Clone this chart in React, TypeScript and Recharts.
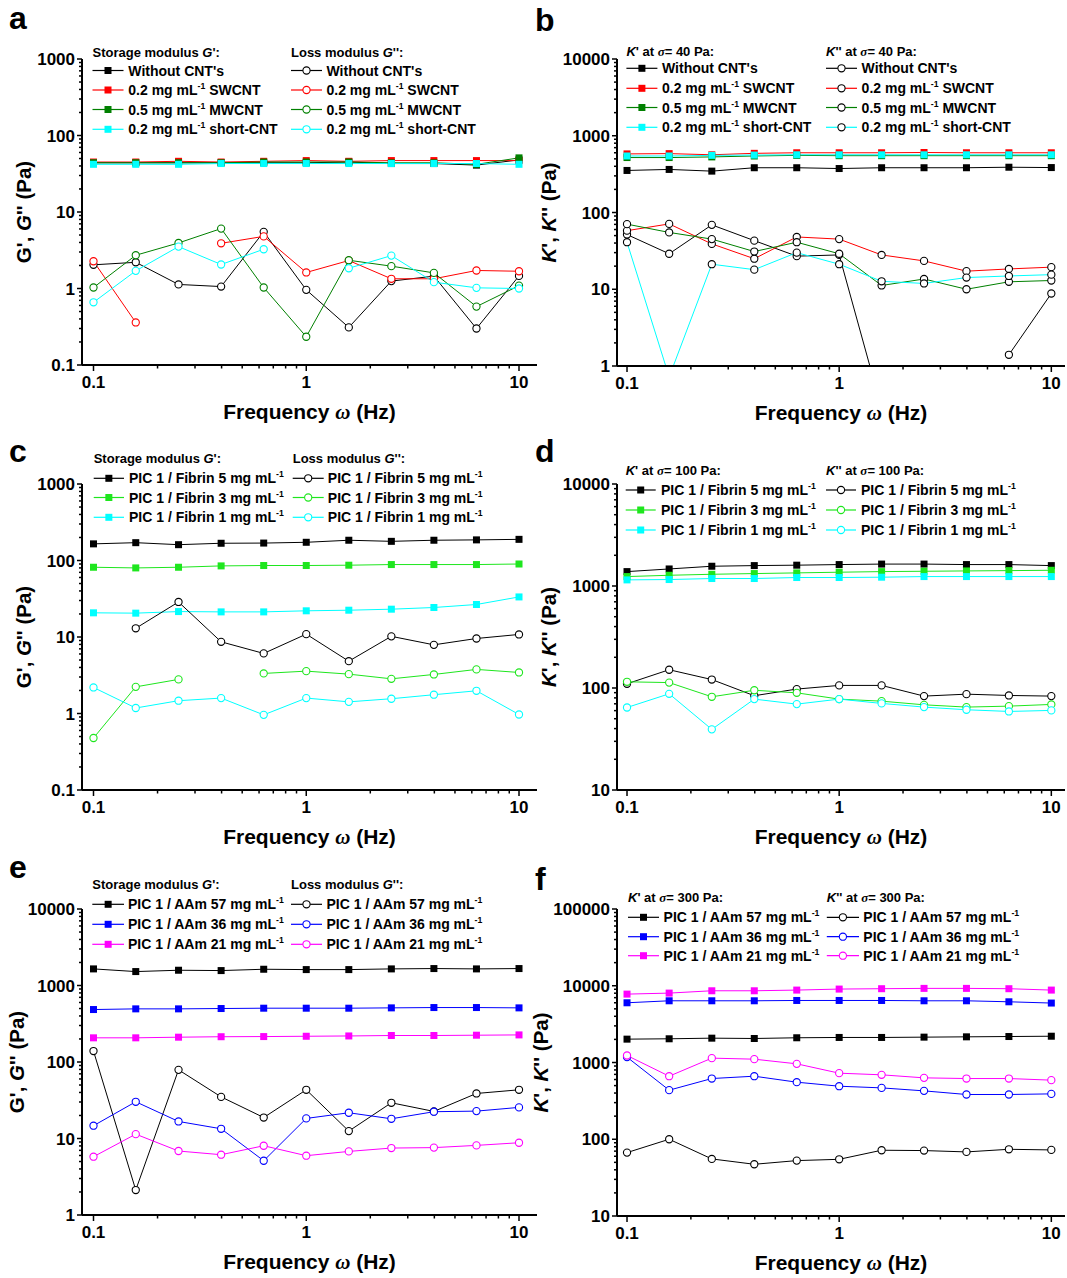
import React from 'react';
import { LineChart, Line, XAxis, YAxis } from 'recharts';

const FONT = '"Liberation Sans", Arial, Helvetica, sans-serif';
const SERIF = '"Liberation Serif", "DejaVu Serif", serif';

// ---------- data ----------
const FREQ = [0.1, 0.158, 0.251, 0.398, 0.631, 1, 1.585, 2.512, 3.981, 6.31, 10];

// panel a (G' / G'' with CNTs)
const A_GP_NONE = [44, 44, 44, 44, 44, 44, 45, 43, 43, 41, 48];
const A_GP_SWCNT = [45, 45, 46, 45, 46, 47, 46, 47, 47, 47, 47];
const A_GP_MWCNT = [44, 44, 44, 44, 45, 45, 45, 44, 44, 42, 51];
const A_GP_SHORT = [42, 42, 42, 43, 43, 43, 43, 43, 43, 43, 42];
const A_GPP_NONE = [2.04, 2.2, 1.13, 1.06, 5.5, 0.96, 0.31, 1.25, 1.45, 0.3, 1.46];
const A_GPP_SWCNT = [2.27, 0.36, null, 3.9, 4.8, 1.62, 2.32, 1.34, 1.34, 1.72, 1.68];
const A_GPP_MWCNT = [1.03, 2.72, 3.94, 6.07, 1.03, 0.234, 2.34, 1.96, 1.6, 0.58, 1.09];
const A_GPP_SHORT = [0.66, 1.7, 3.53, 2.06, 3.26, null, 1.84, 2.69, 1.21, 1.02, 1.0];

// panel b (K' / K'' at 40 Pa with CNTs)
const B_KP_NONE = [353, 364, 346, 383, 383, 374, 383, 383, 383, 389, 385];
const B_KP_SWCNT = [580, 585, 565, 590, 600, 600, 600, 605, 600, 600, 600];
const B_KP_MWCNT = [520, 520, 530, 545, 555, 550, 550, 550, 550, 550, 550];
const B_KP_SHORT = [545, 545, 555, 560, 565, 565, 565, 565, 565, 565, 565];
const B_KPP_NONE = [51.6, 29, 69, 43, 27, 28, 0.28, null, null, 1.4, 8.8];
const B_KPP_SWCNT = [58, 71, 39, 25, 48, 45, 28, 23.4, 17.2, 18.4, 19.4];
const B_KPP_MWCNT = [70.5, 55, 45, 31, 41, 29, 11.2, 13.6, 10, 12.5, 13];
const B_KPP_SHORT = [41, 0.72, 21.2, 18, 30, 21.2, 12.7, 11.9, 14.2, 14.9, 15.5];

// panel c (G' / G'' PIC / Fibrin)
const C_GP_5 = [165, 171, 161, 168, 169, 173, 184, 178, 184, 186, 189];
const C_GP_3 = [81.6, 80, 81.6, 85, 86, 86, 86.8, 88.5, 88.5, 88.5, 90];
const C_GP_1 = [20.7, 20.5, 21.5, 21.3, 21.3, 22, 22.4, 23.1, 24.3, 26.6, 33.4];
const C_GPP_5 = [null, 13, 28.7, 8.65, 6.1, 10.9, 4.83, 10.2, 7.9, 9.56, 10.8];
const C_GPP_3 = [0.478, 2.23, 2.79, null, 3.34, 3.58, 3.27, 2.84, 3.24, 3.77, 3.44];
const C_GPP_1 = [2.19, 1.18, 1.47, 1.59, 0.96, 1.59, 1.42, 1.56, 1.76, 1.98, 0.97];

// panel d (K' / K'' at 100 Pa PIC / Fibrin)
const D_KP_5 = [1384, 1469, 1562, 1585, 1600, 1622, 1640, 1640, 1622, 1622, 1585];
const D_KP_3 = [1237, 1274, 1303, 1324, 1344, 1365, 1384, 1395, 1405, 1415, 1426];
const D_KP_1 = [1148, 1157, 1184, 1184, 1211, 1211, 1220, 1237, 1237, 1237, 1237];
const D_KPP_5 = [110, 151, 121, 84, 97.6, 106, 106, 83.3, 87, 84.5, 83.3];
const D_KPP_3 = [115, 113, 82, 95, 89.7, 77.8, 74.3, 68.4, 65, 66.4, 69];
const D_KPP_1 = [64.4, 87.7, 39.3, 77.8, 69.5, 77.8, 70.6, 65, 61.2, 58.9, 60.3];

// panel e (G' / G'' PIC / AAm)
const E_GP_57 = [1648, 1521, 1583, 1567, 1631, 1614, 1614, 1648, 1665, 1648, 1665];
const E_GP_36 = [485, 495, 495, 500, 505, 505, 505, 510, 515, 515, 510];
const E_GP_21 = [207, 207, 211, 214, 215, 217, 219, 222, 222, 224, 226];
const E_GPP_57 = [139, 2.12, 79, 35, 18.8, 43.3, 12.5, 29.3, 22.6, 38.8, 43.3];
const E_GPP_36 = [14.7, 30.2, 16.7, 13.4, 5.12, 18.3, 21.7, 18.1, 22.4, 22.8, 25.5];
const E_GPP_21 = [5.78, 11.4, 6.86, 6.14, 8.04, 5.96, 6.78, 7.5, 7.6, 8.13, 8.8];

// panel f (K' / K'' at 300 Pa PIC / AAm)
const F_KP_57 = [2015, 2037, 2075, 2055, 2100, 2120, 2120, 2140, 2160, 2180, 2200];
const F_KP_36 = [6000, 6370, 6370, 6370, 6430, 6430, 6430, 6370, 6370, 6180, 5950];
const F_KP_21 = [7780, 8020, 8600, 8600, 8780, 9050, 9150, 9240, 9240, 9150, 8780];
const F_KPP_57 = [67, 100, 55.4, 47.2, 52.7, 54.8, 71.9, 71.2, 68.4, 74, 72.6];
const F_KPP_36 = [1175, 436, 618, 663, 554, 491, 467, 427, 383, 383, 390];
const F_KPP_21 = [1234, 663, 1140, 1105, 961, 726, 691, 631, 618, 618, 589];

// legend labels
const CNT_LABELS = ["Without CNT's", '0.2 mg mL^-1^ SWCNT', '0.5 mg mL^-1^ MWCNT', '0.2 mg mL^-1^ short-CNT'];
const FIBRIN_LABELS = ['PIC 1 / Fibrin 5 mg mL^-1^', 'PIC 1 / Fibrin 3 mg mL^-1^', 'PIC 1 / Fibrin 1 mg mL^-1^'];
const AAM_LABELS = ['PIC 1 / AAm 57 mg mL^-1^', 'PIC 1 / AAm 36 mg mL^-1^', 'PIC 1 / AAm 21 mg mL^-1^'];

// ---------- styles ----------
const BLACK = '#000000';
const RED = '#ff0000';
const DKGREEN = '#008000';
const GREEN = '#1ee61e';
const CYAN = '#00ffff';
const BLUE = '#0000ff';
const MAGENTA = '#ff00ff';

type Kind = 'sq' | 'ci';
type Series = { values: (number | null)[]; color: string; kind: Kind; dotStroke?: string; label: string };
type Col = { lx1: number; lx2: number; tx: number };
type PanelCfg = {
  letter: string; lx: number; ly: number;
  plot: [number, number, number, number];
  xDomain: [number, number];
  yExp: [number, number];
  yTitle: string; yTitleX: number;
  headers: [string, string]; headerY: number; rows: number[];
  col1: Col; col2: Col;
  left: Series[]; right: Series[];
};

const mk = (values: (number | null)[], color: string, kind: Kind, label: string, dotStroke?: string): Series =>
  ({ values, color, kind, label, dotStroke });

const PANELS: PanelCfg[] = [
  {
    letter: 'a', lx: 9, ly: 29, plot: [82, 59, 537, 365], xDomain: [0.0883, 12.15], yExp: [-1, 3],
    yTitle: "G', _G_'' (Pa)", yTitleX: 31,
    headers: ["Storage modulus _G_':", "Loss modulus _G_'':"], headerY: 57, rows: [70.5, 90, 109.5, 129.3],
    col1: { lx1: 92.5, lx2: 123.5, tx: 128.3 }, col2: { lx1: 291, lx2: 322, tx: 326.5 },
    left: [
      mk(A_GP_NONE, BLACK, 'sq', CNT_LABELS[0]), mk(A_GP_SWCNT, RED, 'sq', CNT_LABELS[1]),
      mk(A_GP_MWCNT, DKGREEN, 'sq', CNT_LABELS[2]), mk(A_GP_SHORT, CYAN, 'sq', CNT_LABELS[3]),
    ],
    right: [
      mk(A_GPP_NONE, BLACK, 'ci', CNT_LABELS[0]), mk(A_GPP_SWCNT, RED, 'ci', CNT_LABELS[1]),
      mk(A_GPP_MWCNT, DKGREEN, 'ci', CNT_LABELS[2]), mk(A_GPP_SHORT, CYAN, 'ci', CNT_LABELS[3]),
    ],
  },
  {
    letter: 'b', lx: 535, ly: 31, plot: [617, 59, 1065, 366], xDomain: [0.0897, 11.6], yExp: [0, 4],
    yTitle: "_K_', _K_'' (Pa)", yTitleX: 556,
    headers: ["_K_' at ~σ~= 40 Pa:", "_K_'' at ~σ~= 40 Pa:"], headerY: 55.5, rows: [68.3, 88.3, 107.5, 127.3],
    col1: { lx1: 626.4, lx2: 657.4, tx: 662 }, col2: { lx1: 826, lx2: 857, tx: 861.6 },
    left: [
      mk(B_KP_NONE, BLACK, 'sq', CNT_LABELS[0]), mk(B_KP_SWCNT, RED, 'sq', CNT_LABELS[1]),
      mk(B_KP_MWCNT, DKGREEN, 'sq', CNT_LABELS[2]), mk(B_KP_SHORT, CYAN, 'sq', CNT_LABELS[3]),
    ],
    right: [
      mk(B_KPP_NONE, BLACK, 'ci', CNT_LABELS[0], BLACK), mk(B_KPP_SWCNT, RED, 'ci', CNT_LABELS[1], BLACK),
      mk(B_KPP_MWCNT, DKGREEN, 'ci', CNT_LABELS[2], BLACK), mk(B_KPP_SHORT, CYAN, 'ci', CNT_LABELS[3], BLACK),
    ],
  },
  {
    letter: 'c', lx: 9, ly: 462, plot: [82, 484, 537, 790], xDomain: [0.0883, 12.15], yExp: [-1, 3],
    yTitle: "G', _G_'' (Pa)", yTitleX: 31,
    headers: ["Storage modulus _G_':", "Loss modulus _G_'':"], headerY: 463, rows: [478.3, 497.5, 517.3],
    col1: { lx1: 93.7, lx2: 124, tx: 129 }, col2: { lx1: 292.7, lx2: 323.7, tx: 327.8 },
    left: [
      mk(C_GP_5, BLACK, 'sq', FIBRIN_LABELS[0]), mk(C_GP_3, GREEN, 'sq', FIBRIN_LABELS[1]),
      mk(C_GP_1, CYAN, 'sq', FIBRIN_LABELS[2]),
    ],
    right: [
      mk(C_GPP_5, BLACK, 'ci', FIBRIN_LABELS[0]), mk(C_GPP_3, GREEN, 'ci', FIBRIN_LABELS[1]),
      mk(C_GPP_1, CYAN, 'ci', FIBRIN_LABELS[2]),
    ],
  },
  {
    letter: 'd', lx: 535, ly: 462, plot: [617, 484, 1065, 790], xDomain: [0.0897, 11.6], yExp: [1, 4],
    yTitle: "_K_', _K_'' (Pa)", yTitleX: 556,
    headers: ["_K_' at ~σ~= 100 Pa:", "_K_'' at ~σ~= 100 Pa:"], headerY: 475, rows: [490, 510, 530],
    col1: { lx1: 625.7, lx2: 655.7, tx: 661 }, col2: { lx1: 826, lx2: 856, tx: 861 },
    left: [
      mk(D_KP_5, BLACK, 'sq', FIBRIN_LABELS[0]), mk(D_KP_3, GREEN, 'sq', FIBRIN_LABELS[1]),
      mk(D_KP_1, CYAN, 'sq', FIBRIN_LABELS[2]),
    ],
    right: [
      mk(D_KPP_5, BLACK, 'ci', FIBRIN_LABELS[0]), mk(D_KPP_3, GREEN, 'ci', FIBRIN_LABELS[1]),
      mk(D_KPP_1, CYAN, 'ci', FIBRIN_LABELS[2]),
    ],
  },
  {
    letter: 'e', lx: 9, ly: 878, plot: [82, 909, 537, 1215], xDomain: [0.0883, 12.15], yExp: [0, 4],
    yTitle: "G', _G_'' (Pa)", yTitleX: 24,
    headers: ["Storage modulus _G_':", "Loss modulus _G_'':"], headerY: 889, rows: [904.3, 924.3, 944.3],
    col1: { lx1: 92.3, lx2: 124, tx: 128 }, col2: { lx1: 291, lx2: 322, tx: 326.5 },
    left: [
      mk(E_GP_57, BLACK, 'sq', AAM_LABELS[0]), mk(E_GP_36, BLUE, 'sq', AAM_LABELS[1]),
      mk(E_GP_21, MAGENTA, 'sq', AAM_LABELS[2]),
    ],
    right: [
      mk(E_GPP_57, BLACK, 'ci', AAM_LABELS[0]), mk(E_GPP_36, BLUE, 'ci', AAM_LABELS[1]),
      mk(E_GPP_21, MAGENTA, 'ci', AAM_LABELS[2]),
    ],
  },
  {
    letter: 'f', lx: 535, ly: 890, plot: [617, 909, 1065, 1216], xDomain: [0.0897, 11.6], yExp: [1, 5],
    yTitle: "_K_', _K_'' (Pa)", yTitleX: 548,
    headers: ["_K_' at ~σ~= 300 Pa:", "_K_'' at ~σ~= 300 Pa:"], headerY: 902, rows: [917.3, 936.7, 955.7],
    col1: { lx1: 628, lx2: 659, tx: 663.6 }, col2: { lx1: 826.8, lx2: 859, tx: 863.3 },
    left: [
      mk(F_KP_57, BLACK, 'sq', AAM_LABELS[0]), mk(F_KP_36, BLUE, 'sq', AAM_LABELS[1]),
      mk(F_KP_21, MAGENTA, 'sq', AAM_LABELS[2]),
    ],
    right: [
      mk(F_KPP_57, BLACK, 'ci', AAM_LABELS[0]), mk(F_KPP_36, BLUE, 'ci', AAM_LABELS[1]),
      mk(F_KPP_21, MAGENTA, 'ci', AAM_LABELS[2]),
    ],
  },
];

// ---------- helpers ----------
const logTicks = (lo: number, hi: number) => {
  const t: number[] = [];
  for (let e = lo; e < hi; e++) for (let m = 1; m <= 9; m++) t.push(Number((m * Math.pow(10, e)).toPrecision(6)));
  t.push(Number(Math.pow(10, hi).toPrecision(6)));
  return t;
};
const isDecade = (v: number) => { const l = Math.log10(v); return Math.abs(l - Math.round(l)) < 1e-9; };
const fmt = (v: number) => (v >= 1 ? String(Math.round(v)) : String(Number(v.toPrecision(3))));

const XTick = (props: any) => {
  const { x, y, payload } = props;
  const v = payload.value as number;
  const major = isDecade(v);
  return (
    <g>
      <line x1={x} x2={x} y1={y} y2={y + (major ? 6 : 3.5)} stroke="#000" strokeWidth={1.5} />
      {major && (
        <text x={x} y={y + 23} textAnchor="middle" fontFamily={FONT} fontWeight="bold" fontSize={17} fill="#000">
          {fmt(v)}
        </text>
      )}
    </g>
  );
};

const YTick = (props: any) => {
  const { x, y, payload } = props;
  const v = payload.value as number;
  const major = isDecade(v);
  return (
    <g>
      <line x1={x} x2={x - (major ? 5 : 3)} y1={y} y2={y} stroke="#000" strokeWidth={1.5} />
      {major && (
        <text x={x - 7} y={y + 6} textAnchor="end" fontFamily={FONT} fontWeight="bold" fontSize={17} fill="#000">
          {fmt(v)}
        </text>
      )}
    </g>
  );
};

const makeDot = (s: Series) => (props: any) => {
  const { cx, cy, index } = props;
  const k = 'd' + index;
  if (cx == null || cy == null || !isFinite(cx) || !isFinite(cy)) return <g key={k} />;
  if (s.kind === 'sq') return <rect key={k} x={cx - 3.5} y={cy - 3.5} width={7} height={7} fill={s.color} />;
  return <circle key={k} cx={cx} cy={cy} r={3.6} fill="#fff" stroke={s.dotStroke ?? s.color} strokeWidth={1.1} />;
};

function Rich({ x, y, text, size, anchor = 'start', transform }: { x: number; y: number; text: string; size: number; anchor?: string; transform?: string }) {
  const parts = text.split(/(\^[^^]*\^|_[^_]*_|~[^~]*~)/).filter((p) => p.length > 0);
  let shift = 0;
  const spans = parts.map((pt, i) => {
    if (pt.startsWith('^')) {
      const up = -size * 0.42;
      const d = up - shift;
      shift = up;
      return <tspan key={i} dy={d} fontSize={size * 0.62}>{pt.slice(1, -1)}</tspan>;
    }
    const dy = -shift;
    shift = 0;
    const dyProp = dy !== 0 ? { dy } : {};
    if (pt.startsWith('_')) return <tspan key={i} {...dyProp} fontStyle="italic">{pt.slice(1, -1)}</tspan>;
    if (pt.startsWith('~')) return <tspan key={i} {...dyProp} fontStyle="italic" fontFamily={SERIF}>{pt.slice(1, -1)}</tspan>;
    return <tspan key={i} {...dyProp}>{pt}</tspan>;
  });
  return (
    <text x={x} y={y} fontSize={size} fontWeight="bold" fontFamily={FONT} textAnchor={anchor as any} transform={transform} fill="#000" style={{ whiteSpace: 'pre' }}>
      {spans}
    </text>
  );
}

function LegendRow({ s, col, y }: { s: Series; col: Col; y: number }) {
  const mx = (col.lx1 + col.lx2) / 2;
  return (
    <g>
      <line x1={col.lx1} x2={col.lx2} y1={y} y2={y} stroke={s.color} strokeWidth={1.2} />
      {s.kind === 'sq' ? (
        <rect x={mx - 3.5} y={y - 3.5} width={7} height={7} fill={s.color} />
      ) : (
        <circle cx={mx} cy={y} r={3.6} fill="#fff" stroke={s.dotStroke ?? s.color} strokeWidth={1.1} />
      )}
      <Rich x={col.tx} y={y + 5} text={s.label} size={14} />
    </g>
  );
}

function PanelText({ p }: { p: PanelCfg }) {
  const [x1, y1, x2, y2] = p.plot;
  const cy = (y1 + y2) / 2;
  return (
    <g>
      <text x={p.lx} y={p.ly} fontFamily={FONT} fontWeight="bold" fontSize={32} fill="#000">{p.letter}</text>
      <Rich x={(x1 + x2) / 2} y={y2 + 54} text={'Frequency ~ω~ (Hz)'} size={21} anchor="middle" />
      <Rich x={p.yTitleX} y={cy} text={p.yTitle} size={20.5} anchor="middle" transform={`rotate(-90, ${p.yTitleX}, ${cy})`} />
      <Rich x={p.col1.lx1} y={p.headerY} text={p.headers[0]} size={13} />
      <Rich x={p.col2.lx1} y={p.headerY} text={p.headers[1]} size={13} />
      {p.left.map((s, i) => <LegendRow key={'l' + i} s={s} col={p.col1} y={p.rows[i]} />)}
      {p.right.map((s, i) => <LegendRow key={'r' + i} s={s} col={p.col2} y={p.rows[i]} />)}
    </g>
  );
}

function ChartPanel({ p }: { p: PanelCfg }) {
  const [x1, y1, x2, y2] = p.plot;
  const ML = 80, MT = 20, XH = 50, MB = 10, MR = 2;
  const W = x2 - x1 + ML + MR;
  const H = y2 - y1 + MT + XH + MB;
  const all = [...p.left, ...p.right];
  const data = FREQ.map((f, i) => {
    const r: any = { f };
    all.forEach((s, j) => { r['s' + j] = s.values[i]; });
    return r;
  });
  const xTicks = logTicks(-1, 1);
  const yTicks = logTicks(p.yExp[0], p.yExp[1]);
  return (
    <div style={{ position: 'absolute', left: x1 - ML, top: y1 - MT, width: W, height: H }}>
      <LineChart width={W} height={H} data={data} margin={{ top: MT, right: MR, bottom: MB, left: 0 }}>
        <XAxis
          dataKey="f" type="number" scale="log" domain={p.xDomain} allowDataOverflow
          ticks={xTicks} interval={0} tick={(props: any) => <XTick {...props} />}
          tickLine={false} tickSize={0} tickMargin={0} height={XH}
          axisLine={{ stroke: '#000', strokeWidth: 2 }}
        />
        <YAxis
          type="number" scale="log" domain={[Math.pow(10, p.yExp[0]), Math.pow(10, p.yExp[1])]} allowDataOverflow
          ticks={yTicks} interval={0} tick={(props: any) => <YTick {...props} />}
          tickLine={false} tickSize={0} tickMargin={0} width={ML}
          axisLine={{ stroke: '#000', strokeWidth: 2 }}
        />
        {all.map((s, j) => (
          <Line
            key={j} dataKey={'s' + j} type="linear" stroke={s.color} strokeWidth={1}
            isAnimationActive={false} connectNulls={false} dot={makeDot(s)} activeDot={false}
          />
        ))}
      </LineChart>
    </div>
  );
}

export default function App() {
  return (
    <div style={{ position: 'absolute', left: 0, top: 0, width: 1067, height: 1278, background: '#fff', overflow: 'hidden' }}>
      {PANELS.map((p) => <ChartPanel key={p.letter} p={p} />)}
      <svg width={1067} height={1278} style={{ position: 'absolute', left: 0, top: 0, pointerEvents: 'none' }}>
        {PANELS.map((p) => <PanelText key={p.letter} p={p} />)}
      </svg>
    </div>
  );
}
